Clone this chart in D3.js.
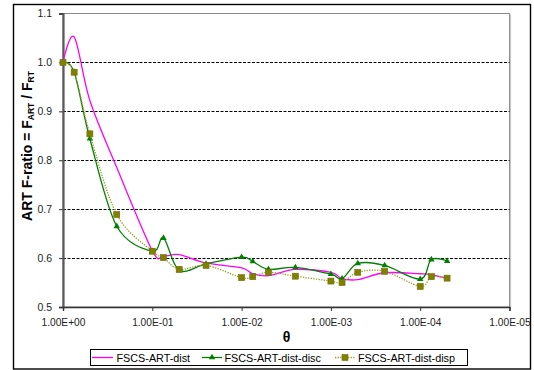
<!DOCTYPE html>
<html>
<head>
<meta charset="utf-8">
<script src="https://cdn.jsdelivr.net/npm/d3@7"></script>
<style>
  html, body { margin: 0; padding: 0; background: #fff; }
  svg { display: block; }
  text { font-family: Arial, "Liberation Sans", sans-serif; }
</style>
</head>
<body>
<svg id="chart" width="534" height="370"></svg>
<script>
// θ values (log scale, decreasing to the right)
const theta = [1, 0.75, 0.5, 0.25, 0.1, 0.075, 0.05, 0.025, 0.01, 0.0075, 0.005, 0.0025,
               0.001, 0.00075, 0.0005, 0.00025, 0.0001, 0.000075, 0.00005];

// ART F-ratio per series
const distValues = [1.0, 1.052, 0.922, 0.785, 0.615, 0.604, 0.607, 0.590, 0.580, 0.568, 0.564, 0.577,
                    0.571, 0.558, 0.556, 0.570, 0.568, 0.566, 0.558];
const discValues = [1.0, 0.980, 0.844, 0.665, 0.614, 0.641, 0.575, 0.588, 0.602, 0.593, 0.577, 0.581,
                    0.567, 0.558, 0.589, 0.585, 0.557, 0.597, 0.594];
const dispValues = [1.0, 0.980, 0.854, 0.689, 0.614, 0.601, 0.577, 0.585, 0.560, 0.562, 0.571, 0.563,
                    0.553, 0.550, 0.571, 0.573, 0.542, 0.562, 0.559];

const seriesNames = ["FSCS-ART-dist", "FSCS-ART-dist-disc", "FSCS-ART-dist-disp"];
const xTicks = [1, 1e-1, 1e-2, 1e-3, 1e-4, 1e-5];
const xTickLabels = ["1.00E+00", "1.00E-01", "1.00E-02", "1.00E-03", "1.00E-04", "1.00E-05"];
const yTicks = [0.5, 0.6, 0.7, 0.8, 0.9, 1.0, 1.1];

const svg = d3.select("#chart");
const plot = { left: 63, right: 509.5, top: 13.5, bottom: 307 };

const x = d3.scaleLog().domain([1, 1e-5]).range([plot.left, plot.right]);
const y = d3.scaleLinear().domain([0.5, 1.1]).range([plot.bottom, plot.top]);

// outer chart frame
svg.append("rect")
  .attr("x", 13.5).attr("y", 4.5).attr("width", 517).attr("height", 364.5)
  .attr("fill", "#fff").attr("stroke", "#000").attr("stroke-width", 1.4);

// plot area frame
svg.append("rect")
  .attr("x", plot.left).attr("y", plot.top)
  .attr("width", plot.right - plot.left).attr("height", plot.bottom - plot.top)
  .attr("fill", "#fff").attr("stroke", "#8a8a8a").attr("stroke-width", 1);
svg.append("line")
  .attr("x1", plot.right + 1).attr("x2", plot.right + 1)
  .attr("y1", plot.top + 1).attr("y2", plot.bottom)
  .attr("stroke", "#c8c8c8").attr("stroke-width", 1.2);

// horizontal dashed gridlines
svg.append("g").selectAll("line")
  .data(yTicks.filter(v => v > 0.5 && v < 1.1))
  .join("line")
  .attr("x1", plot.left).attr("x2", plot.right)
  .attr("y1", d => Math.round(y(d)) + 0.5).attr("y2", d => Math.round(y(d)) + 0.5)
  .attr("stroke", "#000").attr("stroke-width", 1)
  .attr("stroke-dasharray", "3,1.5");

// y axis
const yAxis = d3.axisLeft(y).tickValues(yTicks).tickFormat(d3.format(".1f"))
  .tickSize(4).tickPadding(7);
const gy = svg.append("g").attr("transform", `translate(${plot.left},0)`).call(yAxis);
gy.select(".domain").attr("stroke", "#5a5a5a").attr("stroke-width", 2.2);
gy.selectAll(".tick line").attr("stroke", "#333");
gy.selectAll(".tick text").attr("font-size", 10.5).attr("fill", "#222")
  .attr("font-family", "Arial, 'Liberation Sans', sans-serif");

// x axis
const xAxis = d3.axisBottom(x).tickValues(xTicks)
  .tickFormat((d, i) => xTickLabels[i]).tickSize(4).tickPadding(8);
const gx = svg.append("g").attr("transform", `translate(0,${plot.bottom})`).call(xAxis);
gx.select(".domain").attr("stroke", "#333").attr("stroke-width", 1.4);
gx.selectAll(".tick line").attr("stroke", "#333");
gx.selectAll(".tick text").attr("font-size", 10.2).attr("fill", "#222")
  .attr("font-family", "Arial, 'Liberation Sans', sans-serif");

// axis titles
svg.append("text")
  .attr("x", 286.5).attr("y", 342)
  .attr("text-anchor", "middle").attr("font-size", 14).attr("font-weight", "bold")
  .text("θ");

const yTitle = svg.append("text")
  .attr("transform", "translate(32,146) rotate(-90)")
  .attr("text-anchor", "middle").attr("font-size", 14).attr("font-weight", "bold");
yTitle.append("tspan").text("ART F-ratio = F");
yTitle.append("tspan").attr("font-size", 8.5).attr("dy", 2).text("ART");
yTitle.append("tspan").attr("dy", -2).text(" / F");
yTitle.append("tspan").attr("font-size", 8.5).attr("dy", 2).text("RT");

// series
const mk = vals => theta.map((t, i) => [t, vals[i]]);
const line = d3.line().x(d => x(d[0])).y(d => y(d[1])).curve(d3.curveCatmullRom.alpha(0));

const g = svg.append("g");
g.append("path").attr("d", line(mk(distValues)))
  .attr("fill", "none").attr("stroke", "#ff00ff").attr("stroke-width", 1.3);

g.append("path").attr("d", line(mk(discValues)))
  .attr("fill", "none").attr("stroke", "#008000").attr("stroke-width", 1.3);
const tri = d3.symbol().type(d3.symbolTriangle).size(18);
g.append("g").selectAll("path").data(mk(discValues)).join("path")
  .attr("transform", d => `translate(${x(d[0])},${y(d[1])})`)
  .attr("d", tri).attr("fill", "#008000");

g.append("path").attr("d", line(mk(dispValues)))
  .attr("fill", "none").attr("stroke", "#9a9a2a").attr("stroke-width", 1.3)
  .attr("stroke-dasharray", "1.3,1.3");
g.append("g").selectAll("rect").data(mk(dispValues)).join("rect")
  .attr("x", d => x(d[0]) - 3).attr("y", d => y(d[1]) - 3)
  .attr("width", 6).attr("height", 6)
  .attr("fill", "#808000").attr("stroke", "#6e6e00").attr("stroke-width", 0.6);

// legend
const lg = svg.append("g");
lg.append("rect").attr("x", 90.5).attr("y", 349.5).attr("width", 377).attr("height", 16)
  .attr("fill", "#fff").attr("stroke", "#000").attr("stroke-width", 1);
const ly = 357.5;
const items = [
  { name: seriesNames[0], x0: 92, x1: 113, tx: 116.5, color: "#ff00ff", dash: null, marker: null },
  { name: seriesNames[1], x0: 202, x1: 222, tx: 224.5, color: "#008000", dash: null, marker: "tri" },
  { name: seriesNames[2], x0: 335, x1: 355, tx: 358, color: "#9a9a2a", dash: "1.3,1.3", marker: "sq" }
];
items.forEach(it => {
  lg.append("line").attr("x1", it.x0).attr("x2", it.x1).attr("y1", ly).attr("y2", ly)
    .attr("stroke", it.color).attr("stroke-width", 1.3)
    .attr("stroke-dasharray", it.dash);
  const cx = (it.x0 + it.x1) / 2;
  if (it.marker === "tri") {
    lg.append("path").attr("transform", `translate(${cx},${ly})`).attr("d", tri).attr("fill", "#008000");
  } else if (it.marker === "sq") {
    lg.append("rect").attr("x", cx - 3).attr("y", ly - 3).attr("width", 6).attr("height", 6)
      .attr("fill", "#808000").attr("stroke", "#6e6e00").attr("stroke-width", 0.6);
  }
  lg.append("text").attr("x", it.tx).attr("y", ly + 4).attr("font-size", 10.8).attr("fill", "#000")
    .text(it.name);
});
</script>
</body>
</html>
